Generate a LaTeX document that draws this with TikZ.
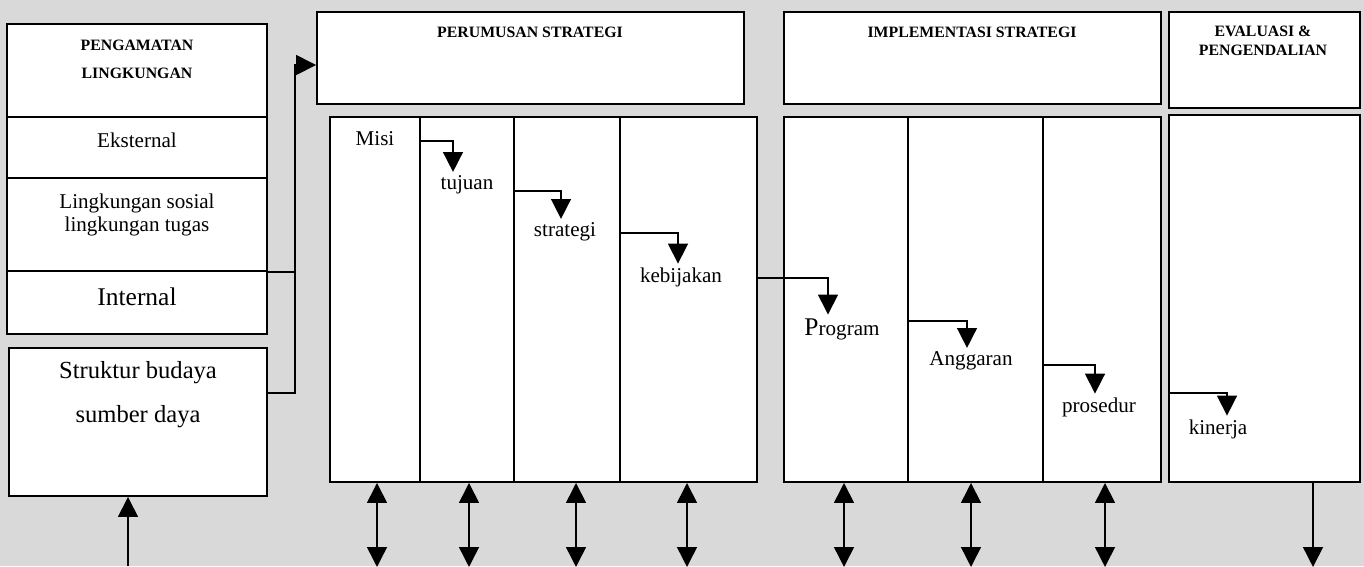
\documentclass[tikz,border=0pt]{standalone}
\usepackage{fontspec}
\setmainfont{Liberation Serif}
\usepackage{xcolor}
\usetikzlibrary{arrows.meta,positioning,calc,fit}
\definecolor{bgGray}{HTML}{D9D9D9}
\tikzset{
  blok/.style={draw, fill=white, line width=1.1pt, inner sep=0pt},
  judul/.style={font=\fontsize{9}{11}\selectfont\bfseries, align=center},
  isi/.style={font=\fontsize{12}{13}\selectfont, align=center, inner sep=2pt},
  garis/.style={line width=0.9pt},
  alur/.style={line width=0.9pt, -{Triangle[width=11.3pt, length=11.3pt]}},
  dua/.style={line width=0.9pt, {Triangle[width=11.3pt, length=11.3pt]}-{Triangle[width=11.3pt, length=11.3pt]}},
}

\begin{document}
\begin{tikzpicture}[x=0.02cm, y=-0.02cm]
\useasboundingbox (0,0) rectangle (1364,566);
\fill[bgGray] (0,0) rectangle (1364,566);

% pengamatan lingkungan
\node[blok, fit={(7,24) (267,117)}] (lingTop) {};
\node[blok, fit={(7,117) (267,178)}] (eksBox) {};
\node[blok, fit={(7,178) (267,271)}] (sosBox) {};
\node[blok, fit={(7,271) (267,334)}] (intBox) {};
\node[blok, fit={(9,348) (267,496)}] (strBox) {};
\node[judul, font=\fontsize{9}{16}\selectfont\bfseries] (lingJudul) at (137,59) {PENGAMATAN\\LINGKUNGAN};
\node[isi] (eks) at (137,140) {Eksternal};
\node[isi] (sos) at (137,215) {Lingkungan sosial\\lingkungan tugas};
\node[isi, font=\fontsize{14.5}{16}\selectfont] (int) at (137,297) {Internal};
\node[isi, font=\fontsize{14}{25}\selectfont] (struk) at (138,395) {Struktur budaya\\sumber daya};

% kepala tahap
\node[blok, fit={(317,12) (744,104)}] (rumTop) {};
\node[judul] (rumJudul) at (530,32) {PERUMUSAN STRATEGI};
\node[blok, fit={(784,12) (1161,104)}] (impTop) {};
\node[judul] (impJudul) at (972,32) {IMPLEMENTASI STRATEGI};
\node[blok, fit={(1169,12) (1360,108)}] (evaTop) {};
\node[judul] (evaJudul) at (1263,41) {EVALUASI \&\\PENGENDALIAN};

% kolom
\node[blok, fit={(330,117) (420,482)}] (misiCol) {};
\node[blok, fit={(420,117) (514,482)}] (tujCol) {};
\node[blok, fit={(514,117) (620,482)}] (strCol) {};
\node[blok, fit={(620,117) (757,482)}] (kebCol) {};
\node[blok, fit={(784,117) (908,482)}] (prgCol) {};
\node[blok, fit={(908,117) (1043,482)}] (angCol) {};
\node[blok, fit={(1043,117) (1161,482)}] (prsCol) {};
\node[blok, fit={(1169,115) (1360,482)}] (kinCol) {};

\node[isi] (misi) at (375,139) {Misi};
\node[isi] (tujuan) at (467,185) {tujuan};
\node[isi] (strategi) at (565,232) {strategi};
\node[isi] (kebijakan) at (681,277) {kebijakan};
\node[isi] (program) at (842,329) {{\fontsize{14.5}{16}\selectfont P}rogram};
\node[isi] (anggaran) at (971,361) {Anggaran};
\node[isi] (prosedur) at (1099,407) {prosedur};
\node[isi] (kinerja) at (1218,429) {kinerja};

% umpan ke perumusan
\coordinate (tekuk) at (295,65);
\draw[alur] (strBox.east |- 0,393) -| (tekuk) -- (rumTop.west |- tekuk);
\draw[garis] (sosBox.south east) -- (sosBox.south east -| tekuk);

% alur antar kolom
\draw[alur] (tujCol.west |- 0,141) -| ($(tujuan.north)+(-14,0)$);
\draw[alur] (strCol.west |- 0,191) -| ($(strategi.north)+(-4,0)$);
\draw[alur] (kebCol.west |- 0,233) -| ($(kebijakan.north)+(-3,0)$);
\draw[alur] (kebCol.east |- 0,278) -| ($(program.north)+(-14,0)$);
\draw[alur] (angCol.west |- 0,321) -| ($(anggaran.north)+(-4,0)$);
\draw[alur] (prsCol.west |- 0,365) -| ($(prosedur.north)+(-4,0)$);
\draw[alur] (kinCol.west |- 0,393) -| ($(kinerja.north)+(9,0)$);

% panah bawah
\draw[dua] (misiCol.south -| 377,0) -- ++(0,84);
\draw[dua] (tujCol.south -| 469,0) -- ++(0,84);
\draw[dua] (strCol.south -| 576,0) -- ++(0,84);
\draw[dua] (kebCol.south -| 687,0) -- ++(0,84);
\draw[dua] (prgCol.south -| 844,0) -- ++(0,84);
\draw[dua] (angCol.south -| 971,0) -- ++(0,84);
\draw[dua] (prsCol.south -| 1105,0) -- ++(0,84);
\draw[alur] (kinCol.south -| 1313,0) -- ++(0,84);
\coordinate (bawah) at (128,566);
\draw[alur] (bawah) -- (strBox.south -| bawah);
\end{tikzpicture}
\end{document}
